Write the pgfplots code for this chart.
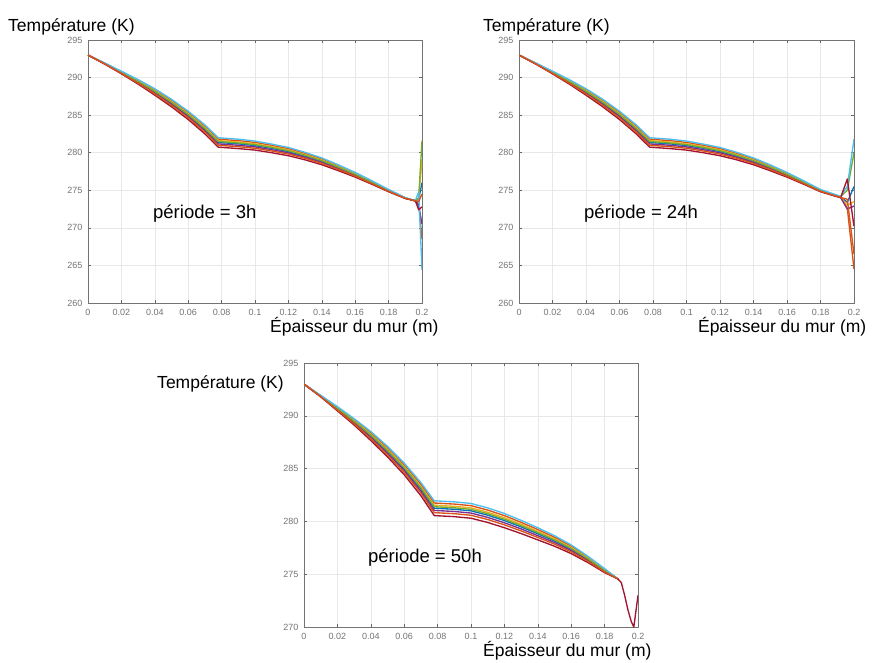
\documentclass[border=0pt]{standalone}
\usepackage{pgfplots}
\pgfplotsset{compat=1.18}
\usepackage{pgfplotstable}
\usepackage{fontspec}
\setmainfont{Liberation Sans}

\definecolor{mc1}{rgb}{0,0.447,0.741}
\definecolor{mc2}{rgb}{0.85,0.325,0.098}
\definecolor{mc3}{rgb}{0.929,0.694,0.125}
\definecolor{mc4}{rgb}{0.494,0.184,0.556}
\definecolor{mc5}{rgb}{0.466,0.674,0.188}
\definecolor{mc6}{rgb}{0.301,0.745,0.933}
\definecolor{mc7}{rgb}{0.635,0.078,0.184}
\definecolor{mc8}{rgb}{0.85,0.325,0.098}

% common part of the profiles (3h and 24h)
\pgfplotstableread{
x     c1     c2     c3     c4     c5     c6     c7     c8
0     293.0  293.0  293.0  293.0  293.0  293.0  293.0  293.0
0.01  291.86 291.91 291.89 291.84 291.88 291.94 291.79 291.82
0.02  290.67 290.79 290.74 290.62 290.71 290.85 290.5  290.57
0.03  289.43 289.64 289.55 289.34 289.49 289.73 289.13 289.25
0.04  288.08 288.38 288.25 287.95 288.17 288.51 287.66 287.83
0.05  286.61 286.96 286.81 286.46 286.71 287.11 286.11 286.31
0.06  284.97 285.36 285.19 284.81 285.08 285.52 284.42 284.64
0.07  283.1  283.52 283.34 282.92 283.22 283.7  282.5  282.74
0.078 281.36 281.8  281.61 281.17 281.49 281.99 280.74 280.99
0.09  281.18 281.61 281.43 280.99 281.3  281.8  280.55 280.8
0.1   280.95 281.37 281.19 280.77 281.07 281.55 280.35 280.59
0.11  280.58 280.98 280.81 280.4  280.69 281.15 280.0  280.23
0.12  280.15 280.54 280.37 279.99 280.26 280.7  279.6  279.82
0.13  279.55 279.9  279.75 279.4  279.65 280.05 279.05 279.25
0.14  278.85 279.17 279.03 278.72 278.94 279.3  278.4  278.58
0.15  277.99 278.26 278.15 277.87 278.07 278.38 277.6  277.76
0.16  277.06 277.28 277.18 276.97 277.12 277.37 276.75 276.87
0.17  276.03 276.19 276.12 275.96 276.08 276.26 275.8  275.89
0.18  274.95 275.06 275.01 274.91 274.98 275.1  274.8  274.86
}\common

% end of the wall, period 3h
\pgfplotstableread{
x     c1     c2     c3     c4     c5     c6     c7     c8
0.18  274.95 275.06 275.01 274.91 274.98 275.1  274.8  274.86
0.19  273.96 274.0  273.98 273.94 273.97 274.02 273.9  273.92
0.196 273.6  273.6  273.6  273.6  273.6  273.6  273.6  273.6
0.198 273.8  273.2  273.9  273.0  274.0  274.8  272.4  273.5
0.2   276.0  268.5  279.0  270.5  281.6  264.4  272.8  274.5
}\tailA

% end of the wall, period 24h
\pgfplotstableread{
x     c1     c2     c3     c4     c5     c6     c7     c8
0.18  274.95 275.06 275.01 274.91 274.98 275.1  274.8  274.86
0.192 274.1  274.1  274.1  274.05 274.15 274.2  274.0  274.05
0.196 273.4  272.6  273.0  272.5  275.0  275.5  276.5  273.8
0.2   275.5  264.5  273.5  272.9  280.0  281.8  270.2  266.5
}\tailB

% period 50h
\pgfplotstableread{
x     c1     c2     c3     c4     c5     c6     c7     c8
0     293.0  293.0  293.0  293.0  293.0  293.0  293.0  293.0
0.01  291.86 291.91 291.89 291.84 291.88 291.94 291.79 291.82
0.02  290.67 290.81 290.75 290.61 290.71 290.87 290.47 290.55
0.03  289.43 289.64 289.55 289.34 289.49 289.73 289.13 289.25
0.04  288.08 288.38 288.25 287.95 288.17 288.51 287.66 287.83
0.05  286.61 286.96 286.81 286.46 286.71 287.11 286.11 286.31
0.06  284.97 285.36 285.19 284.81 285.08 285.52 284.42 284.64
0.07  283.05 283.49 283.3  282.86 283.18 283.68 282.43 282.68
0.078 281.25 281.74 281.53 281.04 281.39 281.95 280.55 280.83
0.09  281.15 281.64 281.43 280.94 281.29 281.85 280.45 280.73
0.1   281.0  281.49 281.28 280.79 281.14 281.7  280.3  280.58
0.11  280.59 281.07 280.87 280.38 280.73 281.28 279.9  280.18
0.12  280.08 280.55 280.35 279.87 280.21 280.75 279.4  279.67
0.13  279.48 279.91 279.73 279.29 279.6  280.1  278.85 279.1
0.14  278.83 279.23 279.06 278.65 278.94 279.4  278.25 278.48
0.15  278.15 278.5  278.35 278.0  278.25 278.65 277.65 277.85
0.16  277.36 277.65 277.52 277.24 277.44 277.77 276.95 277.11
0.17  276.4  276.61 276.52 276.31 276.46 276.7  276.1  276.22
0.18  275.34 275.47 275.42 275.28 275.38 275.53 275.15 275.23
0.188 274.55 274.55 274.55 274.55 274.55 274.55 274.55 274.55
}\fifty

\pgfplotstableread{
x      T
0.188  274.55
0.19   274.2
0.192  273.0
0.194  271.6
0.196  270.5
0.1975 270.0
0.2    273.0
}\tailC

\tikzset{
  lab/.style={font=\fontsize{17.5}{20}\selectfont, text=black, inner sep=0pt},
}
\pgfplotsset{
  mystyle/.style={
    scale only axis,
    xmin=0, xmax=0.2,
    xtick={0,0.02,0.04,0.06,0.08,0.1,0.12,0.14,0.16,0.18,0.2},
    xticklabels={0,0.02,0.04,0.06,0.08,0.1,0.12,0.14,0.16,0.18,0.2},
    grid=major,
    major grid style={black!9, line width=0.6pt},
    axis line style={black!55, line width=0.6pt},
    tick style={black!60, line width=0.6pt},
    major tick length=3pt,
    tick align=inside,
    tick pos=both,
    tick label style={font=\fontsize{9}{10}\selectfont, text=black!55},
    xticklabel style={yshift=-3pt},
    yticklabel style={xshift=-2pt},
    /pgf/number format/assume math mode=true,
  },
  curve/.style={line width=1.35pt, line join=round, no markers},
}

\begin{document}
\begin{tikzpicture}
\path[use as bounding box] (0pt,0pt) rectangle (875pt,662pt);

% ---- period 3h ----
\begin{axis}[mystyle, at={(88pt,359pt)}, anchor=south west,
  width=334pt, height=263pt,
  ymin=260, ymax=295,
  ytick={260,265,270,275,280,285,290,295},
  yticklabels={260,265,270,275,280,285,290,295},
  every axis x label/.style={lab, at={(axis description cs:0.545,-0.114)}, anchor=base west},
  every axis y label/.style={lab, at={(axis description cs:-0.2395,1.034)}, anchor=base west},
  xlabel={Épaisseur du mur (m)}, ylabel={Température (K)}]
\pgfplotsinvokeforeach{1,2,3,4,5,6,7,8}{
  \addplot[curve, mc#1] table[x=x, y=c#1]{\common};
  \addplot[curve, mc#1] table[x=x, y=c#1]{\tailA};
}
\node[anchor=base west, inner sep=0pt, font=\fontsize{18.5}{20}\selectfont] at (axis cs:0.0389,271.3) {période = 3h};
\end{axis}

% ---- period 24h ----
\begin{axis}[mystyle, at={(519pt,359pt)}, anchor=south west,
  width=335pt, height=263pt,
  ymin=260, ymax=295,
  ytick={260,265,270,275,280,285,290,295},
  yticklabels={260,265,270,275,280,285,290,295},
  every axis x label/.style={lab, at={(axis description cs:0.534,-0.114)}, anchor=base west},
  every axis y label/.style={lab, at={(axis description cs:-0.1075,1.034)}, anchor=base west},
  xlabel={Épaisseur du mur (m)}, ylabel={Température (K)}]
\pgfplotsinvokeforeach{1,2,3,4,5,6,7,8}{
  \addplot[curve, mc#1] table[x=x, y=c#1]{\common};
  \addplot[curve, mc#1] table[x=x, y=c#1]{\tailB};
}
\node[anchor=base west, inner sep=0pt, font=\fontsize{18.5}{20}\selectfont] at (axis cs:0.0388,271.3) {période = 24h};
\end{axis}

% ---- period 50h ----
\begin{axis}[mystyle, at={(304pt,35pt)}, anchor=south west,
  width=334pt, height=264pt,
  ymin=270, ymax=295,
  ytick={270,275,280,285,290,295},
  yticklabels={270,275,280,285,290,295},
  every axis x label/.style={lab, at={(axis description cs:0.536,-0.1136)}, anchor=base west},
  every axis y label/.style={lab, at={(axis description cs:-0.44,0.905)}, anchor=base west},
  xlabel={Épaisseur du mur (m)}, ylabel={Température (K)}]
\pgfplotsinvokeforeach{1,2,3,4,5,6,7,8}{
  \addplot[curve, mc#1] table[x=x, y=c#1]{\fifty};
}
\addplot[curve, mc7] table[x=x, y=T]{\tailC};
\node[anchor=base west, inner sep=0pt, font=\fontsize{18.5}{20}\selectfont] at (axis cs:0.0383,276.1) {période = 50h};
\end{axis}
\end{tikzpicture}
\end{document}
